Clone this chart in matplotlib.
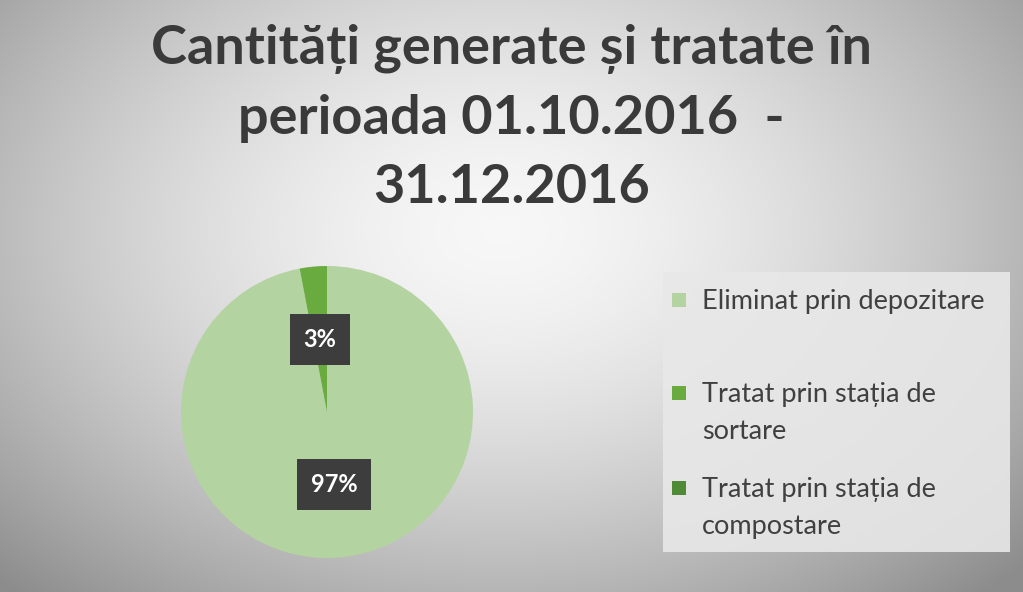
import matplotlib
matplotlib.use("Agg")
import matplotlib.pyplot as plt
import numpy as np
from matplotlib.patches import Rectangle

plt.rcParams["font.family"] = ["Lato", "DejaVu Sans"]

TITLE = "Cantități generate și tratate în\nperioada 01.10.2016  -\n31.12.2016"
labels = [
    "Eliminat prin depozitare",
    "Tratat prin stația de\nsortare",
    "Tratat prin stația de\ncompostare",
]
values = [97, 3, 0]
colors = ["#b3d3a1", "#6aab3f", "#4f8a37"]

W, H = 1023, 592
fig = plt.figure(figsize=(W / 100, H / 100), dpi=100)

# radial grey gradient background
bg = fig.add_axes([0, 0, 1, 1])
yy, xx = np.mgrid[0:H, 0:W]
d = np.sqrt(((xx - 500) / 620.0) ** 2 + ((yy - 230) / 420.0) ** 2)
shade = np.clip(0.97 - 0.33 * d ** 1.6, 0.55, 1.0)
bg.imshow(np.dstack([shade] * 3), extent=[0, W, H, 0], aspect="auto")
bg.set_xlim(0, W)
bg.set_ylim(H, 0)
bg.axis("off")

fig.text(0.5, (H - 118) / H, TITLE, ha="center", va="center", fontsize=39,
         fontweight="bold", color="#3a3a3a", linespacing=1.5)

# pie
cx, cy, r = 327, 412, 146
ax = fig.add_axes([(cx - r) / W, (H - cy - r) / H, 2 * r / W, 2 * r / H])
wedges, texts, autotexts = ax.pie(
    values, colors=colors, startangle=90, counterclock=False,
    autopct=lambda p: f"{p:.0f}%" if p > 0 else "", pctdistance=0.5,
    wedgeprops={"linewidth": 0},
    textprops={"color": "white", "fontsize": 17, "fontweight": "bold"},
)
for t in autotexts:
    t.set_bbox({"facecolor": "#3d3d3d", "edgecolor": "none", "pad": 10})
ax.set_xlim(-1, 1)
ax.set_ylim(-1, 1)
ax.set_aspect("equal")

# legend box
bg.add_patch(Rectangle((663, 272), 347, 280, facecolor="#e8e8e8", edgecolor="none", alpha=0.9))
legend_y = [300, 393, 488]
for lab, col, y in zip(labels, colors, legend_y):
    bg.add_patch(Rectangle((672, y - 7), 14, 14, facecolor=col, edgecolor="none"))
    bg.text(702, y - 11, lab, ha="left", va="top", fontsize=19.5, color="#404040",
            linespacing=1.6)

fig.savefig("out.png", dpi=100)
